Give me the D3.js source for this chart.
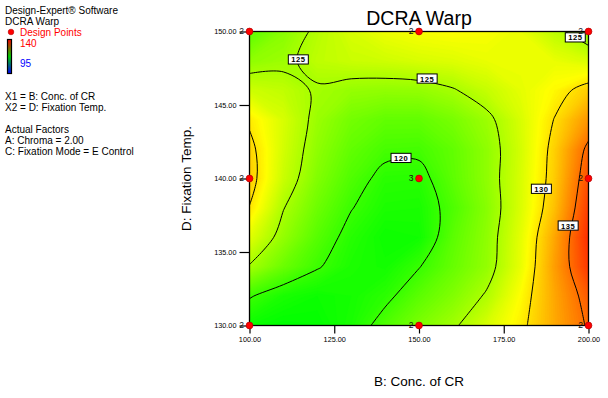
<!DOCTYPE html>
<html>
<head>
<meta charset="utf-8">
<script src="https://cdn.jsdelivr.net/npm/d3@7"></script>
<style>
  body { margin: 0; background: #fff; }
  text { font-family: Arial, "Liberation Sans", sans-serif; }
</style>
</head>
<body>
<div id="chart"></div>
<script>
// factor levels of the response grid
const concCR = [100, 110, 120, 130, 140, 150, 160, 170, 180, 190, 200];   // B: Conc. of CR
const fixTemp = [130, 132, 134, 136, 138, 140, 142, 144, 146, 148, 150];  // D: Fixation Temp.

// DCRA Warp, one row per fixation temp (130 -> 150)
const warp = [
  [118.0, 117.4, 117.6, 118.6, 121.0, 123.0, 124.6, 127.0, 129.4, 132.5, 135.3], // 130
  [120.2, 118.6, 118.0, 118.4, 119.4, 121.5, 123.2, 125.3, 128.8, 132.6, 136.0], // 132
  [124.8, 122.2, 120.2, 118.7, 118.3, 119.9, 122.0, 124.0, 127.8, 133.0, 137.5], // 134
  [127.5, 124.0, 121.3, 119.2, 118.0, 118.2, 121.5, 123.8, 127.6, 132.6, 138.0], // 136
  [129.9, 125.1, 122.3, 120.1, 118.7, 118.6, 120.9, 123.5, 127.1, 131.5, 137.3], // 138
  [131.0, 126.4, 123.2, 121.0, 119.3, 119.2, 121.6, 123.8, 127.0, 131.0, 136.5], // 140
  [130.7, 126.8, 123.8, 121.8, 120.6, 120.5, 121.8, 123.8, 126.8, 130.8, 135.6], // 142
  [129.6, 127.0, 124.3, 122.6, 121.8, 121.8, 122.8, 124.4, 127.0, 130.1, 133.4], // 144
  [126.6, 126.0, 124.7, 124.1, 123.9, 124.0, 124.8, 126.2, 127.6, 129.0, 131.0], // 146
  [123.8, 124.4, 125.9, 126.4, 126.6, 127.0, 127.3, 127.8, 128.0, 127.8, 127.0], // 148
  [121.5, 123.5, 125.5, 127.0, 128.0, 128.5, 128.7, 128.5, 127.8, 125.8, 123.2]  // 150
];

// contour levels and where their labels sit (in B / D units)
const contourLevels = [120, 125, 130, 135];
const labelLevel = [125, 125, 125, 120, 130, 135];
const labelB = [114.4, 152.4, 196.1, 144.7, 186.1, 194.0];
const labelD = [148.1, 146.8, 149.6, 141.4, 139.3, 136.8];

// design points and their replicate counts
const pointB = [100, 150, 200, 100, 150, 200, 100, 150, 200];
const pointD = [130, 130, 130, 140, 140, 140, 150, 150, 150];
const pointReps = [2, 2, 2, 2, 3, 2, 2, 2, 2];

// axis ticks
const xTicks = [100, 125, 150, 175, 200];
const yTicks = [130, 135, 140, 145, 150];

// colour legend range
const legendLow = 95, legendHigh = 140;

const infoLines = [
  {t: "Design-Expert\u00ae Software", y: 14},
  {t: "DCRA Warp", y: 25},
  {t: "X1 = B: Conc. of CR", y: 100},
  {t: "X2 = D: Fixation Temp.", y: 111},
  {t: "Actual Factors", y: 133},
  {t: "A: Chroma = 2.00", y: 144},
  {t: "C: Fixation Mode = E Control", y: 155}
];

const W = 608, H = 398;
const svg = d3.select("#chart").append("svg")
  .attr("width", W).attr("height", H);

const x = d3.scaleLinear().domain([100, 200]).range([249.5, 588.5]);
const y = d3.scaleLinear().domain([130, 150]).range([325.5, 31.5]);

const color = d3.scaleLinear()
  .domain([legendLow, 117.5, 128.75, legendHigh])
  .range(["#0000ff", "#00ff00", "#ffff00", "#ff0000"]);

const nx = concCR.length, ny = fixTemp.length;
const values = warp.flat();

// grid index space -> pixels (d3.contours puts sample i at i + 0.5)
const gx = d3.scaleLinear().domain([0.5, nx - 0.5]).range([x(concCR[0]), x(concCR[nx - 1])]);
const gy = d3.scaleLinear().domain([0.5, ny - 0.5]).range([y(fixTemp[0]), y(fixTemp[ny - 1])]);
const proj = d3.geoTransform({
  point: function(px, py) { this.stream.point(gx(px), gy(py)); }
});
const path = d3.geoPath(proj);

svg.append("clipPath").attr("id", "plotclip")
  .append("rect")
  .attr("x", x(100)).attr("y", y(150))
  .attr("width", x(200) - x(100)).attr("height", y(130) - y(150));

const plot = svg.append("g").attr("clip-path", "url(#plotclip)");

// colour fill: many thin bands
const step = 0.2;
const bandThr = d3.range(Math.floor(d3.min(values)), legendHigh, step);
const bands = d3.contours().size([nx, ny]).thresholds(bandThr)(values);
plot.selectAll("path.band")
  .data(bands)
  .join("path")
  .attr("class", "band")
  .attr("d", path)
  .attr("fill", d => color(d.value + step / 2))
  .attr("stroke", d => color(d.value + step / 2))
  .attr("stroke-width", 0.3);

// contour lines, with the grid border pieces cut away
function isolines(level) {
  const c = d3.contours().size([nx, ny]).thresholds([level])(values)[0];
  const onEdge = p => p[0] <= 0 || p[0] >= nx || p[1] <= 0 || p[1] >= ny;
  const runs = [];
  c.coordinates.forEach(poly => poly.forEach(ring => {
    const pts = ring.slice(0, -1);
    const start = pts.findIndex(onEdge);
    if (start < 0) { runs.push({closed: true, pts: pts}); return; }
    const rot = pts.slice(start).concat(pts.slice(0, start));
    let cur = [];
    rot.forEach(p => {
      if (onEdge(p)) {
        if (cur.length > 1) runs.push({closed: false, pts: cur});
        cur = [];
      } else cur.push(p);
    });
    if (cur.length > 1) runs.push({closed: false, pts: cur});
  }));
  return runs;
}

const openLine = d3.line().x(p => gx(p[0])).y(p => gy(p[1])).curve(d3.curveCatmullRom.alpha(0.5));
const closedLine = d3.line().x(p => gx(p[0])).y(p => gy(p[1])).curve(d3.curveCatmullRomClosed.alpha(0.5));

contourLevels.forEach(level => {
  plot.selectAll(null)
    .data(isolines(level))
    .join("path")
    .attr("d", r => (r.closed ? closedLine : openLine)(r.pts))
    .attr("fill", "none")
    .attr("stroke", "#000")
    .attr("stroke-width", 1);
});

// frame
svg.append("rect")
  .attr("x", x(100)).attr("y", y(150))
  .attr("width", x(200) - x(100)).attr("height", y(130) - y(150))
  .attr("fill", "none").attr("stroke", "#000").attr("stroke-width", 1.3);

// axes
const xAxis = svg.append("g").attr("transform", `translate(0,${y(130)})`)
  .call(d3.axisBottom(x).tickValues(xTicks).tickFormat(d3.format(".2f")).tickSize(8).tickPadding(3));
const yAxis = svg.append("g").attr("transform", `translate(${x(100)},0)`)
  .call(d3.axisLeft(y).tickValues(yTicks).tickFormat(d3.format(".2f")).tickSize(10).tickPadding(3));
[xAxis, yAxis].forEach(a => {
  a.select(".domain").remove();
  a.selectAll(".tick line").attr("stroke", "#000").attr("stroke-width", 1.2);
  a.selectAll(".tick text").attr("font-size", 7.3).attr("fill", "#000")
    .attr("font-family", "Arial, 'Liberation Sans', sans-serif");
});

// contour labels
const labels = svg.append("g");
labelLevel.forEach((lv, i) => {
  const cx = x(labelB[i]), cy = y(labelD[i]);
  const g = labels.append("g").attr("transform", `translate(${cx},${cy})`);
  g.append("rect").attr("x", -10).attr("y", -4.6).attr("width", 20).attr("height", 9.2)
    .attr("fill", "#fff").attr("stroke", "#000").attr("stroke-width", 1);
  g.append("text").attr("text-anchor", "middle").attr("y", 3)
    .attr("font-size", 7.6).attr("font-weight", "bold").attr("letter-spacing", 0.5)
    .attr("fill", "#000").text(lv);
});

// design points
const pts = svg.append("g");
pointB.forEach((b, i) => {
  pts.append("text").attr("x", x(b) - 5.5).attr("y", y(pointD[i]) + 2.6)
    .attr("text-anchor", "end").attr("font-size", 8.5).attr("fill", "#111")
    .text(pointReps[i]);
  pts.append("circle").attr("cx", x(b)).attr("cy", y(pointD[i])).attr("r", 3.4)
    .attr("fill", "#ff0000").attr("stroke", "#b00000").attr("stroke-width", 0.7);
});

// title and axis titles
svg.append("text").attr("x", (x(100) + x(200)) / 2).attr("y", 24.5)
  .attr("text-anchor", "middle").attr("font-size", 19.5).text("DCRA Warp");
svg.append("text").attr("x", (x(100) + x(200)) / 2).attr("y", 386)
  .attr("text-anchor", "middle").attr("font-size", 13.5).text("B: Conc. of CR");
svg.append("text")
  .attr("transform", `translate(191,${(y(130) + y(150)) / 2}) rotate(-90)`)
  .attr("text-anchor", "middle").attr("font-size", 13.5).text("D: Fixation Temp.");

// info block on the left
const info = svg.append("g");
infoLines.forEach(l => {
  info.append("text").attr("x", 5).attr("y", l.y).attr("font-size", 10).attr("fill", "#000").text(l.t);
});
info.append("circle").attr("cx", 11).attr("cy", 32).attr("r", 2.8)
  .attr("fill", "#ff0000").attr("stroke", "#b00000").attr("stroke-width", 0.6);
info.append("text").attr("x", 20).attr("y", 35.5).attr("font-size", 10).attr("fill", "#ff0000").text("Design Points");

// colour legend bar: red -> green -> blue straight through RGB
const legendStops = [legendHigh, 117.5, legendLow];
const legendColors = ["#ff0000", "#00d000", "#0000ff"];
const grad = svg.append("defs").append("linearGradient").attr("id", "legendgrad")
  .attr("x1", 0).attr("y1", 0).attr("x2", 0).attr("y2", 1);
legendStops.forEach((v, i) => {
  grad.append("stop")
    .attr("offset", (legendHigh - v) / (legendHigh - legendLow))
    .attr("stop-color", legendColors[i]);
});
info.append("rect").attr("x", 7.5).attr("y", 39.5).attr("width", 4).attr("height", 34)
  .attr("fill", "url(#legendgrad)").attr("stroke", "#000").attr("stroke-width", 1.2);
info.append("text").attr("x", 20).attr("y", 46.5).attr("font-size", 10).attr("fill", "#ff0000").text(legendHigh);
info.append("text").attr("x", 20).attr("y", 67).attr("font-size", 10).attr("fill", "#0000ff").text(legendLow);
</script>
</body>
</html>
